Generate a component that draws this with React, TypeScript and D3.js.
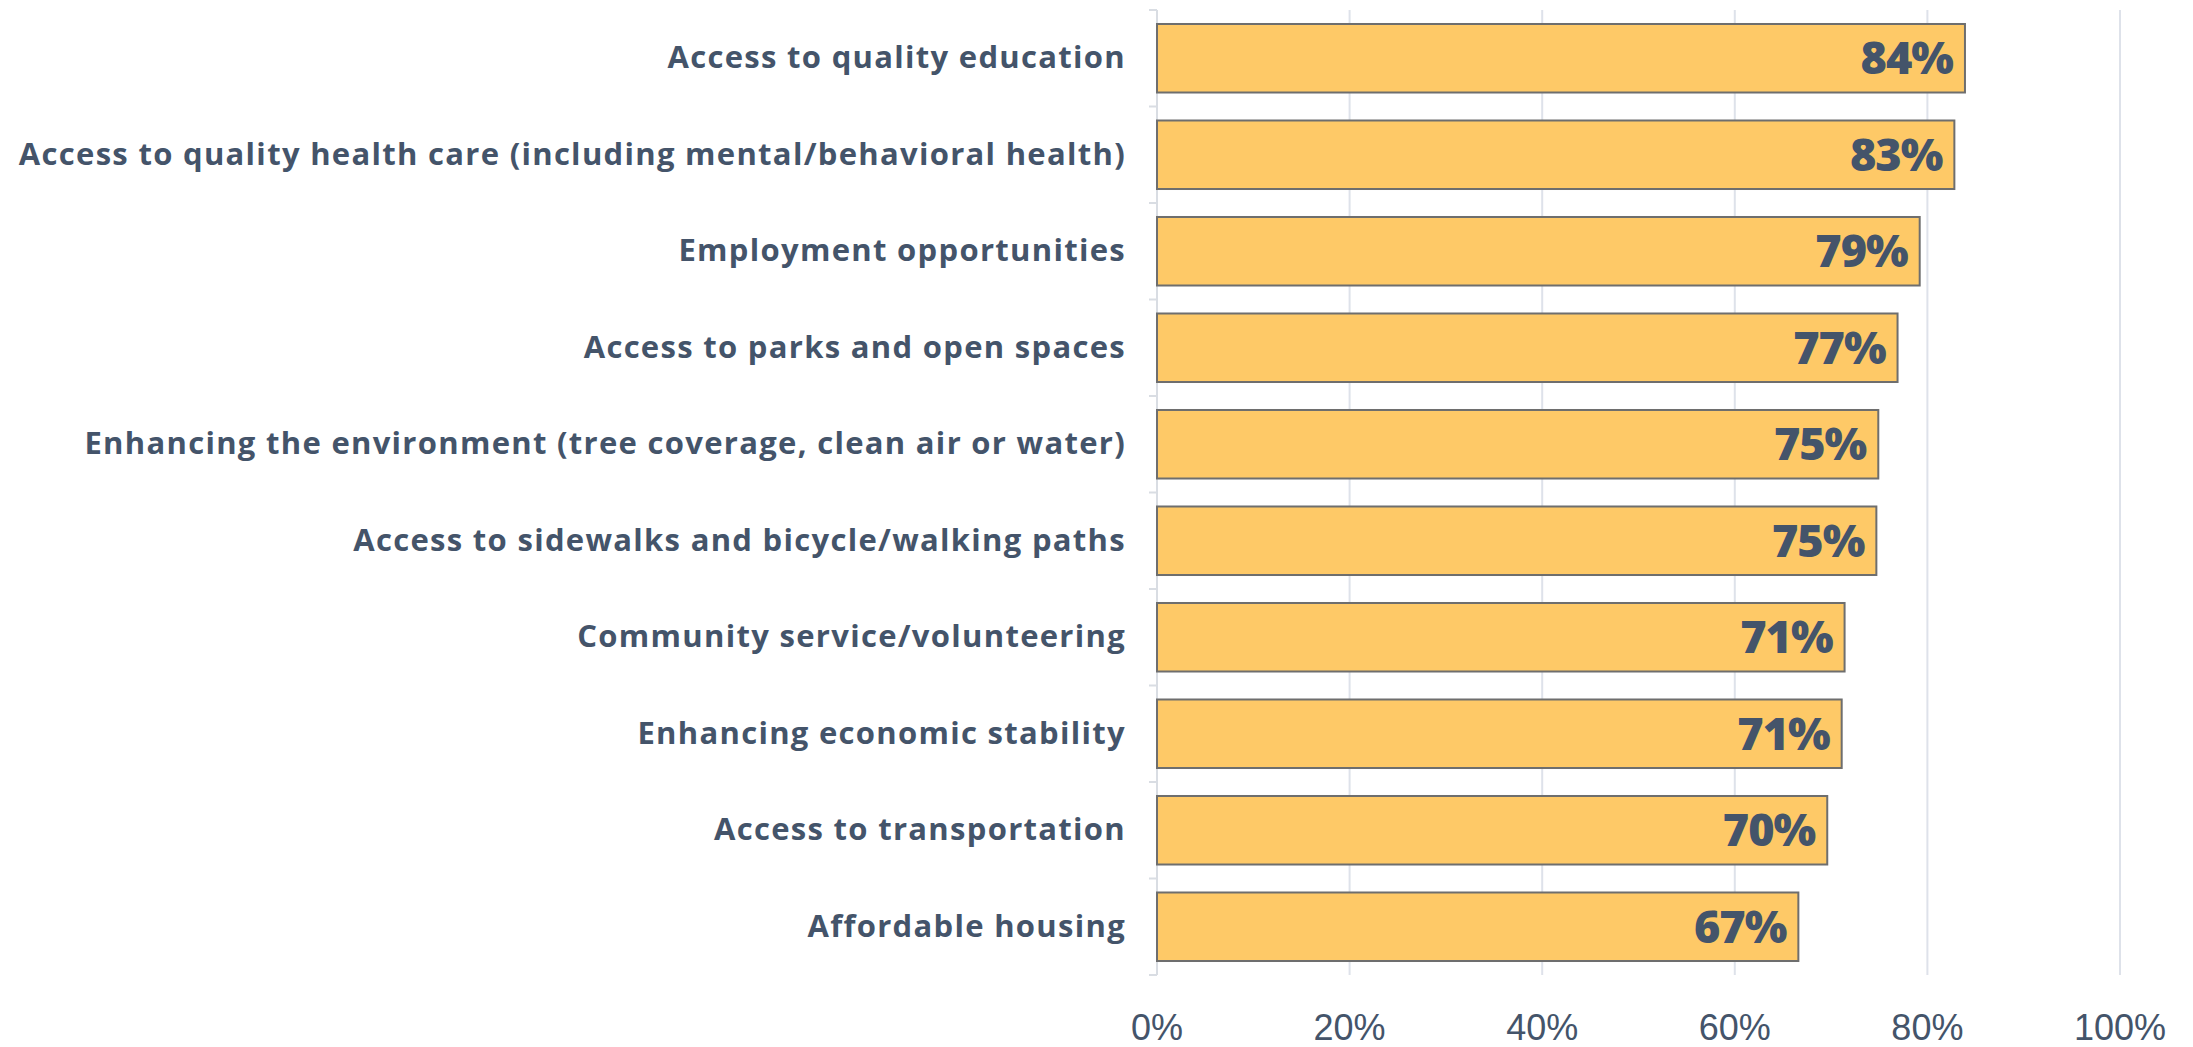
import React from "react";
import * as d3 from "d3";

const categories = [
  "Access to quality education",
  "Access to quality health care (including mental/behavioral health)",
  "Employment opportunities",
  "Access to parks and open spaces",
  "Enhancing the environment (tree coverage, clean air or water)",
  "Access to sidewalks and bicycle/walking paths",
  "Community service/volunteering",
  "Enhancing economic stability",
  "Access to transportation",
  "Affordable housing",
];
const values = [0.839, 0.828, 0.792, 0.769, 0.749, 0.747, 0.714, 0.711, 0.696, 0.666];
const xTicks = [0, 0.2, 0.4, 0.6, 0.8, 1.0];

const W = 2193;
const H = 1047;
const M = { left: 1157, right: 73, top: 10, bottom: 72 };
const TEXT = "#44546A";

export default function App() {
  const x = d3.scaleLinear().domain([0, 1]).range([M.left, W - M.right]);
  const y = d3
    .scaleBand<string>()
    .domain(categories)
    .range([M.top, H - M.bottom])
    .paddingInner(0.29)
    .paddingOuter(0.145);
  const step = y.step();
  const bounds = d3.range(categories.length + 1).map((i) => M.top + i * step);
  const fmt = d3.format(".0%");
  return (
    <svg
      width={W}
      height={H}
      style={{ position: "absolute", left: 0, top: 0, background: "#fff" }}
    >
      {xTicks.slice(1).map((t) => (
        <line
          key={t}
          x1={x(t)}
          x2={x(t)}
          y1={M.top}
          y2={H - M.bottom}
          stroke="#DEE2EA"
          strokeWidth={2}
        />
      ))}
      <line x1={x(0)} x2={x(0)} y1={M.top} y2={H - M.bottom} stroke="#D9DDE3" strokeWidth={2} />
      {bounds.map((b, i) => (
        <line key={i} x1={x(0) - 8} x2={x(0)} y1={b} y2={b} stroke="#D9DDE3" strokeWidth={2} />
      ))}
      {categories.map((c, i) => (
        <g key={c}>
          <rect
            x={x(0)}
            y={y(c)}
            width={x(values[i]) - x(0)}
            height={y.bandwidth()}
            fill="#FEC967"
            stroke="#6E6E6E"
            strokeWidth={2}
          />
          <text
            x={x(values[i]) - 12}
            y={(y(c) as number) + y.bandwidth() / 2}
            dy="0.36em"
            textAnchor="end"
            fontFamily="'Open Sans', sans-serif"
            fontWeight={800}
            fontSize={45}
            fill={TEXT}
            letterSpacing={-1}
          >
            {fmt(values[i])}
          </text>
          <text
            x={1126}
            y={(y(c) as number) + y.bandwidth() / 2 - 1}
            dy="0.35em"
            textAnchor="end"
            fontFamily="'Open Sans', sans-serif"
            fontWeight={700}
            fontSize={31}
            letterSpacing={1.3}
            fill={TEXT}
          >
            {c}
          </text>
        </g>
      ))}
      {xTicks.map((t) => (
        <text
          key={t}
          x={x(t)}
          y={1027}
          dy="0.35em"
          textAnchor="middle"
          fontFamily="'Liberation Sans', sans-serif"
          fontSize={36}
          fill={TEXT}
        >
          {fmt(t)}
        </text>
      ))}
    </svg>
  );
}
